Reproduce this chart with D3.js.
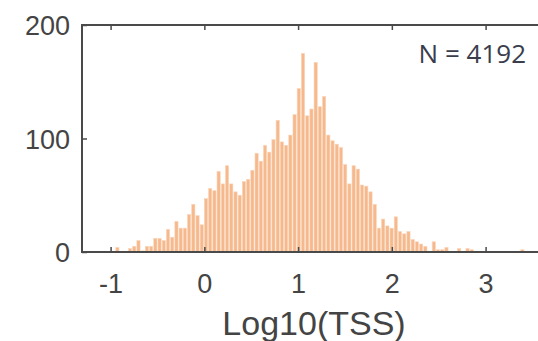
<!DOCTYPE html>
<html>
<head>
<meta charset="utf-8">
<script src="https://cdn.jsdelivr.net/npm/d3@7"></script>
<style>
  html, body { margin: 0; padding: 0; background: #fff; }
  svg { display: block; }
</style>
</head>
<body>
<svg id="chart" width="538" height="341"></svg>
<script>
// Histogram of log10(TSS): bin layout and counts per bin
const binStart = -0.95;
const binWidth = 0.045;
const counts = [
  4, 0, 0, 3, 5, 10, 1, 5, 5, 12,
  12, 10, 20, 13, 27, 21, 21, 33, 42, 32,
  24, 47, 56, 54, 71, 60, 76, 60, 53, 50,
  62, 64, 72, 87, 80, 94, 88, 99, 116, 97,
  94, 103, 121, 144, 175, 120, 126, 167, 128, 137,
  103, 98, 95, 92, 77, 60, 76, 73, 59, 58,
  53, 42, 21, 29, 23, 21, 31, 18, 16, 18,
  11, 9, 7, 5, 0, 9, 2, 2, 4, 0,
  0, 3, 0, 3, 2, 0, 0, 0, 0, 0,
  0, 0, 0, 0, 0, 0, 2
];
const xTicks = [-1, 0, 1, 2, 3];
const yTicks = [0, 100, 200];
const xLimits = [-1.305, 3.65];
const yLimits = [0, 200];
const xTitle = "Log10(TSS)";
const sampleNote = "N = 4192";

const bins = counts.map((c, i) => ({
  x0: binStart + i * binWidth,
  x1: binStart + (i + 1) * binWidth,
  count: c
}));

const svg = d3.select("#chart");
const plotLeft = 82, plotTop = 25, plotBottom = 252;
const plotRight = plotLeft + (xLimits[1] - xLimits[0]) * 93.75;

const x = d3.scaleLinear().domain(xLimits).range([plotLeft, plotRight]);
const y = d3.scaleLinear().domain(yLimits).range([plotBottom, plotTop]);

const axisColor = "#4a4a4a";
const labelColor = "#444";
const fontMain = "'Liberation Sans', Arial, Helvetica, sans-serif";

// bars
svg.append("g")
  .selectAll("rect")
  .data(bins.filter(d => d.count > 0))
  .join("rect")
  .attr("x", d => x(d.x0) + 0.5)
  .attr("width", d => x(d.x1) - x(d.x0) - 1)
  .attr("y", d => y(d.count))
  .attr("height", d => y(0) - y(d.count))
  .attr("fill", "#f6b98d")
  .attr("stroke", "#fad5ba")
  .attr("stroke-width", 0.6);

// axes: bottom ticks point up, top ticks point down, left ticks point right
const tickLen = 5;
const plainNumber = d => String(d);
const xAxisBottom = svg.append("g")
  .attr("transform", `translate(0,${plotBottom})`)
  .call(d3.axisBottom(x).tickValues(xTicks).tickSize(-tickLen).tickPadding(14).tickFormat(plainNumber));
const xAxisTop = svg.append("g")
  .attr("transform", `translate(0,${plotTop})`)
  .call(d3.axisTop(x).tickValues(xTicks).tickSize(-tickLen).tickFormat(""));
const yAxisLeft = svg.append("g")
  .attr("transform", `translate(${plotLeft},0)`)
  .call(d3.axisLeft(y).tickValues(yTicks).tickSize(-tickLen).tickPadding(12).tickFormat(plainNumber));

[xAxisBottom, xAxisTop, yAxisLeft].forEach(g => {
  g.select(".domain").remove();
  g.selectAll(".tick line").attr("stroke", axisColor).attr("stroke-width", 1.5);
  g.selectAll("text")
    .attr("fill", labelColor)
    .style("font-family", fontMain)
    .style("font-size", "27px");
});
xAxisBottom.selectAll("text").attr("dy", "0.71em").attr("y", 22);
yAxisLeft.selectAll("text").attr("dy", "0.36em");

// axis frame
svg.append("path")
  .attr("d", `M${plotRight},${plotTop}H${plotLeft}V${plotBottom}H${plotRight}`)
  .attr("fill", "none")
  .attr("stroke", axisColor)
  .attr("stroke-width", 2);

// x-axis title
svg.append("text")
  .attr("x", x(1.17))
  .attr("y", 335)
  .attr("text-anchor", "middle")
  .attr("fill", labelColor)
  .style("font-family", fontMain)
  .style("font-size", "34px")
  .text(xTitle);

// sample size note
svg.append("text")
  .attr("x", 526)
  .attr("y", 63)
  .attr("text-anchor", "end")
  .attr("fill", "#3a3d4c")
  .style("font-family", "'Open Sans', sans-serif")
  .style("font-size", "26px")
  .text(sampleNote);
</script>
</body>
</html>
